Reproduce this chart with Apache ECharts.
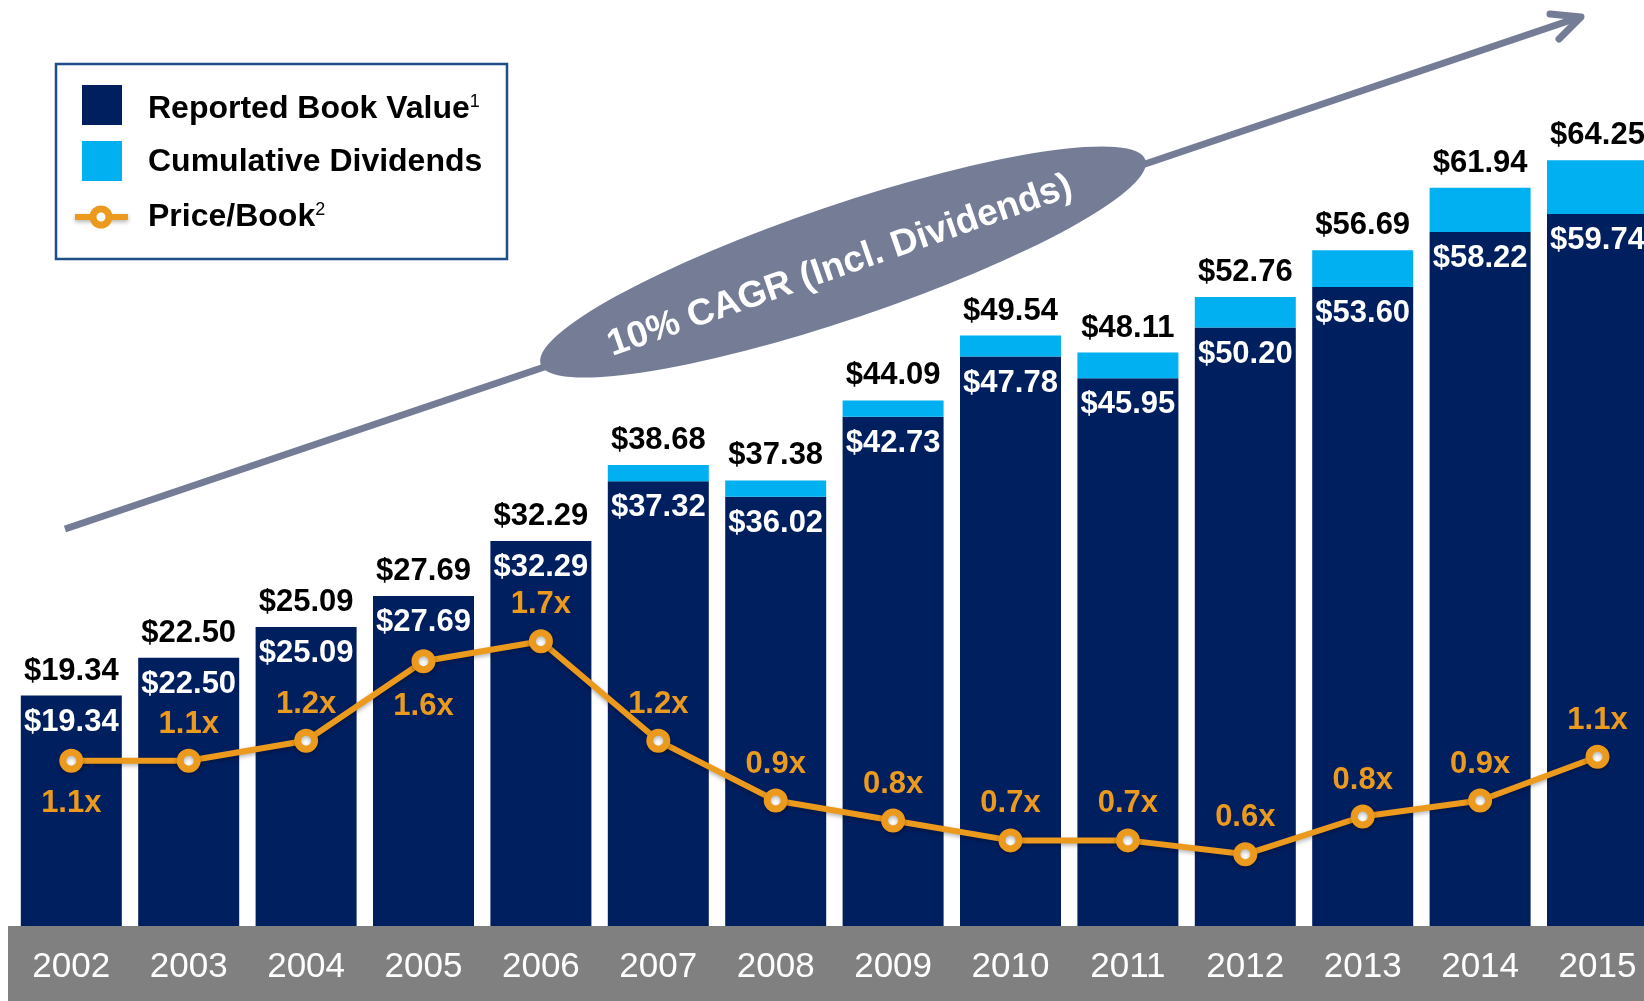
<!DOCTYPE html>
<html>
<head>
<meta charset="utf-8">
<title>Book Value per Share</title>
<script src="https://cdn.jsdelivr.net/npm/echarts@6/dist/echarts.min.js"></script>
<style>
  html, body { margin: 0; padding: 0; background: #fff; }
  #main { width: 1644px; height: 1001px; }
</style>
</head>
<body>
<div id="main"></div>
<script>
// data
var years = ['2002', '2003', '2004', '2005', '2006', '2007', '2008',
             '2009', '2010', '2011', '2012', '2013', '2014', '2015'];
var bookValue = [19.34, 22.50, 25.09, 27.69, 32.29, 37.32, 36.02,
                 42.73, 47.78, 45.95, 50.20, 53.60, 58.22, 59.74];
var dividends = [0, 0, 0, 0, 0, 1.36, 1.36,
                 1.36, 1.76, 2.16, 2.56, 3.09, 3.72, 4.51];
var totals = [19.34, 22.50, 25.09, 27.69, 32.29, 38.68, 37.38,
              44.09, 49.54, 48.11, 52.76, 56.69, 61.94, 64.25];
var priceBook = [1.1, 1.1, 1.2, 1.6, 1.7, 1.2, 0.9,
                 0.8, 0.7, 0.7, 0.63, 0.82, 0.9, 1.12];

var NAVY = '#001F5F';
var CYAN = '#00B0F0';
var ORANGE = '#EC9A1E';
var SLATE = '#757D96';
var FONT = '"Liberation Sans", Arial, Helvetica, sans-serif';

// P/B labels that sit under the marker instead of above
var pbBelow = { 0: 15, 3: 18 };

var pbData = priceBook.map(function (v, i) {
    if (pbBelow[i] !== undefined) {
        return { value: v, label: { position: 'bottom', distance: pbBelow[i] } };
    }
    return v;
});

var supRich = {
    a: { fontSize: 32, fontWeight: 'bold', fontFamily: FONT, fill: '#000' },
    s: { fontSize: 18, fontFamily: FONT, fill: '#000', verticalAlign: 'top' }
};

var myChart = echarts.init(document.getElementById('main'));
myChart.setOption({
    animation: false,
    textStyle: { fontFamily: FONT },
    grid: {
        left: 12.6,
        top: 32,
        width: 1643.6,
        height: 894,
        containLabel: false,
        outerBoundsMode: 'none'
    },
    xAxis: {
        type: 'category',
        data: years,
        axisLine: { show: false },
        axisTick: { show: false },
        axisLabel: {
            color: '#fff',
            fontSize: 35,
            fontFamily: FONT,
            margin: 24
        }
    },
    yAxis: [
        { type: 'value', min: 0, max: 75, show: false },
        { type: 'value', min: 0.27, max: 4.76, show: false }
    ],
    series: [{
        name: 'Reported Book Value',
        type: 'bar',
        stack: 'bv',
        barWidth: 101,
        data: bookValue,
        itemStyle: { color: NAVY },
        label: {
            show: true,
            position: 'insideTop',
            distance: 11,
            color: '#fff',
            fontSize: 31,
            fontWeight: 'bold',
            fontFamily: FONT,
            formatter: function (p) { return '$' + p.value.toFixed(2); }
        }
    }, {
        name: 'Cumulative Dividends',
        type: 'bar',
        stack: 'bv',
        barWidth: 101,
        data: dividends,
        itemStyle: { color: CYAN },
        label: {
            show: true,
            position: 'top',
            distance: 9,
            color: '#000',
            fontSize: 31,
            fontWeight: 'bold',
            fontFamily: FONT,
            formatter: function (p) { return '$' + totals[p.dataIndex].toFixed(2); }
        }
    }, {
        name: 'Price/Book',
        type: 'line',
        yAxisIndex: 1,
        data: pbData,
        symbol: 'circle',
        symbolSize: 17,
        z: 5,
        lineStyle: {
            color: ORANGE,
            width: 6,
            shadowBlur: 4,
            shadowColor: 'rgba(0,0,0,0.3)',
            shadowOffsetY: 2
        },
        itemStyle: {
            color: '#fff',
            borderColor: ORANGE,
            borderWidth: 7,
            shadowBlur: 4,
            shadowColor: 'rgba(0,0,0,0.3)',
            shadowOffsetY: 2
        },
        label: {
            show: true,
            position: 'top',
            distance: 9,
            color: ORANGE,
            fontSize: 31,
            fontWeight: 'bold',
            fontFamily: FONT,
            formatter: function (p) { return p.value.toFixed(1) + 'x'; }
        }
    }],
    graphic: [
        // gray band behind the year labels
        {
            type: 'rect', z: -10,
            shape: { x: 8, y: 926, width: 1640, height: 80 },
            style: { fill: '#808080' }
        },
        // growth arrow
        {
            type: 'polyline', z: 10,
            shape: { points: [[65, 529], [1580, 17]] },
            style: { stroke: SLATE, lineWidth: 7, fill: null }
        },
        {
            type: 'polyline', z: 10,
            shape: { points: [[1550, 14], [1581, 17], [1559, 39]] },
            style: { stroke: SLATE, lineWidth: 7, fill: null, lineCap: 'round', lineJoin: 'round' }
        },
        {
            type: 'circle', z: 11,
            x: 843, y: 262,
            rotation: 0.326,
            scaleX: 5.6,
            shape: { cx: 0, cy: 0, r: 57 },
            style: { fill: SLATE }
        },
        {
            type: 'text', z: 12,
            x: 840, y: 266,
            rotation: 0.335,
            style: {
                text: '10% CAGR (Incl. Dividends)',
                fill: '#fff',
                fontSize: 37,
                fontWeight: 'bold',
                fontFamily: FONT,
                align: 'center',
                verticalAlign: 'middle'
            }
        },
        // legend box
        {
            type: 'rect', z: 10,
            shape: { x: 56, y: 64, width: 451, height: 195 },
            style: { fill: '#fff', stroke: '#1F4E89', lineWidth: 2.5 }
        },
        {
            type: 'rect', z: 11,
            shape: { x: 82, y: 85, width: 40, height: 40 },
            style: { fill: NAVY }
        },
        {
            type: 'rect', z: 11,
            shape: { x: 82, y: 141, width: 40, height: 40 },
            style: { fill: CYAN }
        },
        {
            type: 'polyline', z: 11,
            shape: { points: [[75, 217], [128, 217]] },
            style: { stroke: ORANGE, lineWidth: 6, fill: null,
                     shadowBlur: 4, shadowColor: 'rgba(0,0,0,0.3)', shadowOffsetY: 2 }
        },
        {
            type: 'circle', z: 12,
            shape: { cx: 101, cy: 217, r: 8 },
            style: { fill: '#fff', stroke: ORANGE, lineWidth: 7 }
        },
        {
            type: 'text', z: 11, x: 148, y: 109,
            style: { text: '{a|Reported Book Value}{s|1}', verticalAlign: 'middle', rich: supRich }
        },
        {
            type: 'text', z: 11, x: 148, y: 162,
            style: {
                text: 'Cumulative Dividends',
                verticalAlign: 'middle',
                fontSize: 32, fontWeight: 'bold', fontFamily: FONT, fill: '#000'
            }
        },
        {
            type: 'text', z: 11, x: 148, y: 217,
            style: { text: '{a|Price/Book}{s|2}', verticalAlign: 'middle', rich: supRich }
        }
    ]
});
</script>
</body>
</html>
